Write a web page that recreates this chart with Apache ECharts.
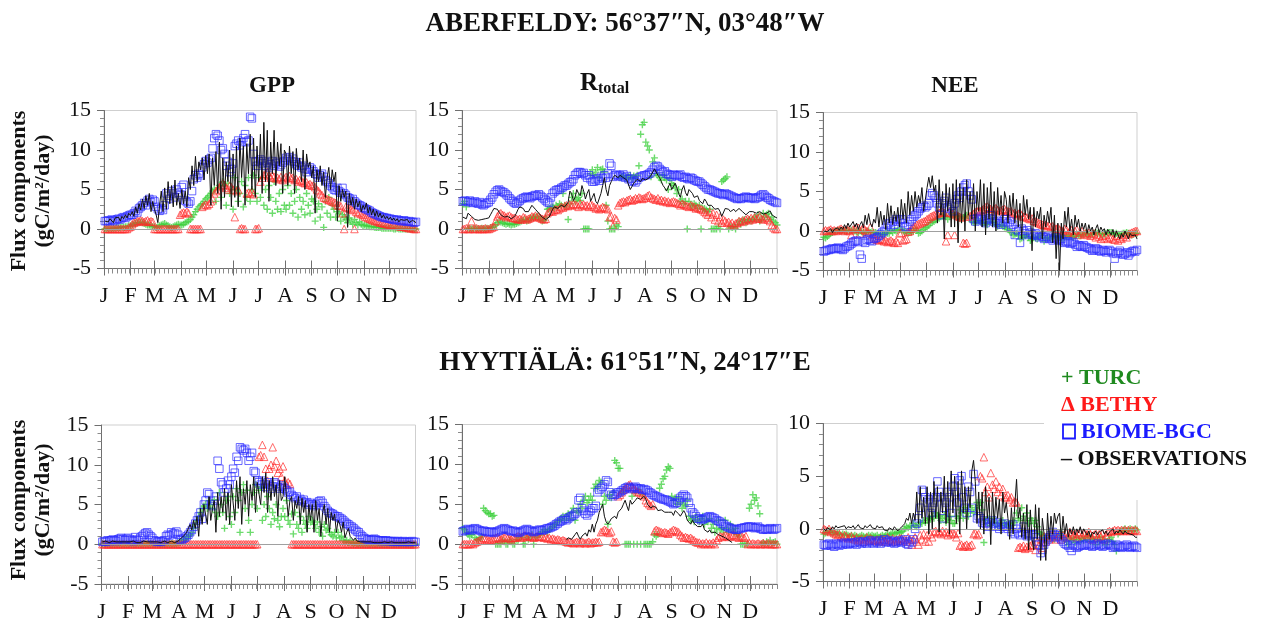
<!DOCTYPE html>
<html>
<head>
<meta charset="utf-8">
<script src="https://cdn.jsdelivr.net/npm/echarts@6/dist/echarts.min.js"></script>
<style>
  html, body { margin: 0; padding: 0; background: #ffffff; }
  #chart { width: 1268px; height: 630px; }
</style>
</head>
<body>
<div id="chart"></div>
<script>
// Month axis: first day of each month and its label
const MONTH_START = [0, 31, 59, 90, 120, 151, 181, 212, 243, 273, 304, 334];
const MONTH_LABELS = ['J', 'F', 'M', 'A', 'M', 'J', 'J', 'A', 'S', 'O', 'N', 'D'];
// one value every DAY_STEP days, Jan 1 .. Dec 31 (183 values per series, one row per month)
const DAY_STEP = 2;

const SERIES_NAMES = ['TURC', 'BETHY', 'BIOME-BGC', 'OBSERVATIONS'];
const SITE_TITLES = ['ABERFELDY: 56\u00b037\u2033N, 03\u00b048\u2033W', 'HYYTI\u00c4L\u00c4: 61\u00b051\u2033N, 24\u00b017\u2033E'];
const Y_NAME = ['Flux components', '(gC/m\u00b2/day)'];

// ================= Aberfeldy: GPP =================
const ABER_GPP_TURC = [
  0.0,0.0,0.0,0.1,0.0,0.1,0.1,0.2,0.1,0.2,0.3,0.2,0.3,0.3,0.4,0.4,
  0.5,0.6,0.7,0.8,0.8,0.9,0.8,0.7,0.6,0.5,0.5,0.4,0.3,0.3,
  0.2,0.3,0.4,0.5,0.6,0.7,0.5,0.4,0.3,0.2,0.3,0.4,0.5,0.6,0.5,
  0.5,0.6,0.8,0.9,1.0,1.2,1.5,1.8,2.2,2.5,2.8,3.0,3.2,3.5,3.8,
  4.0,4.2,4.5,4.8,5.0,3.5,5.2,5.5,4.0,6.0,5.5,3.0,5.8,4.5,5.0,2.5,
  6.5,5.0,3.5,4.5,6.0,2.8,5.5,4.0,6.5,3.5,5.0,6.8,4.5,3.5,6.5,
  4.0,6.5,3.0,5.0,2.5,5.5,4.0,2.0,6.0,3.5,2.5,4.5,2.2,5.0,3.0,
  2.5,5.5,3.0,4.5,2.0,3.5,5.0,1.5,4.0,2.5,3.5,1.8,4.5,3.0,2.0,3.8,
  3.5,1.0,2.5,3.2,1.5,2.8,0.2,3.5,2.0,4.0,1.5,3.0,2.5,1.5,2.2,
  2.0,1.0,1.8,1.5,1.2,0.8,1.4,1.0,0.6,1.2,0.8,0.5,0.9,0.6,0.4,
  0.5,0.4,0.4,0.3,0.3,0.3,0.2,0.2,0.2,0.2,0.1,0.1,0.1,0.1,0.1,
  0.1,0.1,0.0,0.0,0.1,0.0,0.0,0.0,0.0,0.0,0.0,0.0,0.0,0.0,0.0,0.0
];
const ABER_GPP_BETHY = [
  0,0,0,0,0,0,0,0,0,0,0,0,0,0,0.2,0.3,
  0.6,0.8,0.9,1.0,1.0,1.1,1.0,0.9,1.0,1.1,0.9,1.0,0.9,0.0,
  0,0,0,0,0,0,0,0,0,0,0,0,0,0,1.8,
  2.0,2.1,2.0,2.2,2.0,0,0,0,0,0,0,0,2.8,3.0,3.1,
  3.0,3.2,3.5,3.8,4.5,4.8,5.0,5.3,5.5,5.8,5.6,5.2,5.0,5.5,5.3,5.0,
  1.5,4.8,5.0,0.0,0.1,0.0,0.0,4.5,4.6,4.5,4.7,4.4,0.0,0.0,0.1,
  6.0,6.5,6.8,7.0,7.2,6.8,6.5,6.8,6.6,6.4,6.5,6.3,6.6,6.2,6.4,
  6.6,6.5,6.7,6.4,6.5,6.2,6.3,6.0,6.2,6.1,5.9,5.8,5.9,5.6,5.7,5.5,
  5.5,5.3,5.0,4.8,4.5,4.3,4.0,3.9,3.8,3.7,3.6,3.5,3.4,3.3,3.0,
  3.0,2.9,2.0,0.0,2.8,2.7,2.6,2.5,2.4,0.0,2.2,2.0,2.1,1.9,1.8,
  1.6,1.5,1.4,1.3,1.2,1.1,1.0,1.0,0.9,0.8,0.8,0.7,0.7,0.6,0.6,
  0.5,0.5,0.5,0.4,0.4,0.4,0.3,0.3,0.3,0.2,0.2,0.1,0.1,0.1,0.0,0.0
];
const ABER_GPP_BIOME = [
  1.0,1.0,1.1,1.0,1.2,1.1,1.0,1.2,1.3,1.2,1.4,1.5,1.4,1.6,1.7,1.8,
  1.8,2.0,2.3,2.1,2.6,2.8,3.0,3.3,3.0,3.6,3.8,3.4,3.7,3.5,
  2.8,2.5,2.3,2.6,2.4,3.0,4.5,4.2,3.8,4.8,4.5,4.0,5.0,4.6,4.3,
  5.3,5.6,3.6,3.4,3.2,3.5,4.8,6.3,6.8,6.5,7.0,6.8,7.8,8.2,8.6,
  8.4,8.8,9.0,10.2,11.5,12.0,11.8,11.2,10.0,10.2,9.5,8.0,8.5,7.2,7.6,8.3,
  10.5,10.8,11.2,10.6,11.0,11.5,12.0,11.0,11.2,14.2,14.0,9.5,8.5,8.0,8.6,
  8.8,8.3,8.6,8.0,8.4,7.8,8.2,8.6,8.0,8.3,8.5,7.9,8.1,8.4,8.6,
  9.0,8.8,9.1,8.6,8.9,8.5,8.2,8.0,8.4,7.8,8.0,7.6,7.2,7.5,7.8,7.6,
  7.3,7.0,6.9,6.5,6.8,7.0,6.6,6.2,6.0,5.8,5.5,5.3,5.0,4.9,5.2,
  4.8,4.6,5.2,4.5,4.3,4.0,3.9,3.6,3.8,3.5,3.3,3.1,3.0,2.9,2.7,
  2.6,2.5,2.4,2.3,2.1,2.0,1.9,1.8,1.7,1.6,1.5,1.5,1.4,1.4,1.3,
  1.3,1.2,1.2,1.1,1.2,1.1,1.0,1.0,1.1,1.0,0.9,1.0,0.9,0.9,0.8,0.9
];
const ABER_GPP_OBS = [
  1.0,1.2,0.9,1.3,1.1,0.8,1.4,1.2,1.5,1.0,1.6,1.3,1.8,1.4,2.0,1.7,
  2.2,1.6,2.8,2.0,3.2,2.4,3.8,2.6,4.2,3.0,4.5,2.2,3.5,2.5,
  1.8,0.8,3.0,4.8,2.2,5.2,2.5,6.0,3.2,5.5,2.8,6.2,3.0,4.5,2.6,
  5.0,3.2,4.8,2.8,6.5,5.0,8.0,5.5,9.2,6.0,8.5,7.5,9.0,6.2,9.3,
  7.0,9.5,3.0,9.0,5.5,9.8,4.5,11.0,2.5,9.0,4.0,8.5,6.0,10.0,2.8,9.5,
  4.0,10.5,2.8,11.5,6.5,10.5,3.0,10.8,7.0,12.0,5.0,11.5,4.0,10.5,6.0,
  12.0,4.5,13.5,6.0,12.5,3.5,11.0,7.0,12.5,5.5,11.0,8.0,10.8,4.5,10.0,
  9.5,5.5,10.5,7.0,9.8,4.5,10.2,7.5,9.0,6.0,10.0,5.0,9.5,7.8,8.5,6.5,
  8.0,2.0,7.5,6.0,8.0,5.5,7.2,4.0,6.5,7.8,5.0,7.5,6.0,7.2,1.0,
  5.5,3.5,5.0,4.0,4.8,0.2,4.5,3.0,4.0,2.5,3.8,2.8,3.5,2.2,3.0,
  2.5,3.3,2.0,2.8,1.8,2.5,1.6,2.3,1.5,2.0,1.4,1.8,1.3,1.6,1.2,
  1.5,1.1,1.4,1.0,1.3,0.9,1.2,1.0,1.1,0.9,1.2,0.8,1.0,1.1,0.9,0.8
];

// ================= Aberfeldy: total respiration =================
const ABER_R_TURC = [
  3.2,3.5,2.8,0.1,0.0,0.0,0.0,0.1,0.0,0.0,0.0,0.1,0.0,0.0,0.1,0.0,
  0.2,0.2,0.3,0.5,0.8,1.0,0.9,0.8,0.7,0.6,0.7,0.6,0.5,0.6,
  0.6,0.7,0.8,0.9,1.0,1.1,1.2,1.0,1.1,1.3,1.4,1.5,1.5,1.6,1.4,
  1.2,1.0,1.1,1.5,2.5,2.6,2.7,2.8,2.6,3.0,2.8,3.2,3.0,4.5,3.0,
  2.8,1.2,3.2,4.0,4.5,3.5,3.8,4.0,3.6,4.5,0.0,0.0,0.0,0.0,7.0,7.5,
  6.8,7.2,7.8,6.5,7.5,7.6,7.2,3.0,1.0,0.0,0.0,0.0,0.0,0.5,0.3,
  6.5,6.6,6.8,6.4,6.5,6.6,6.8,6.4,6.7,6.5,6.8,8.0,12.0,13.2,13.5,
  11.0,10.5,10.0,6.6,8.5,9.0,7.0,6.8,6.5,6.2,6.8,6.5,6.2,5.0,6.4,5.8,
  5.5,5.2,4.5,5.0,3.5,3.8,3.2,3.5,0.0,3.5,3.0,2.8,3.2,3.0,2.6,
  3.0,0.0,2.5,2.6,2.4,2.2,2.5,0.0,0.0,0.0,0.0,0.3,0.0,6.0,6.2,
  6.4,6.6,0.0,0.3,0.2,0.3,0.0,0.5,1.0,0.6,1.0,1.2,0.8,1.0,1.2,
  1.0,1.2,1.5,1.2,1.8,1.0,1.2,2.0,1.5,1.8,2.0,1.2,1.5,1.0,0.8,0.5
];
const ABER_R_BETHY = [
  0.0,0.0,0.1,0.0,0.0,1.0,0.0,0.0,0.1,0.0,0.0,0.0,0.0,0.1,0.0,0.0,
  0.1,0.2,0.3,1.0,1.6,1.9,2.0,1.8,1.7,1.5,1.6,1.7,1.5,1.4,
  1.4,1.3,1.2,1.3,1.2,1.5,1.4,1.2,1.3,1.4,1.6,1.5,1.7,1.5,1.6,
  1.4,1.3,1.2,1.3,2.0,2.2,2.3,2.2,2.4,2.5,2.4,2.6,2.8,2.7,2.9,
  3.0,2.9,3.1,3.0,3.2,3.1,3.0,2.8,3.2,3.0,3.1,2.9,3.0,2.8,3.1,3.0,
  2.8,2.6,2.7,2.5,2.6,2.8,2.7,2.6,2.5,1.5,1.6,0.4,1.4,1.2,3.0,
  3.3,3.4,3.5,3.4,3.6,3.7,3.8,3.6,3.7,3.9,3.8,4.0,3.9,3.8,3.9,
  4.0,4.2,4.3,4.0,3.9,3.8,3.7,3.9,3.6,3.7,3.5,3.6,3.4,3.5,3.3,3.4,
  3.5,3.4,3.3,3.2,3.0,3.2,3.1,3.0,2.9,2.8,3.0,2.9,2.8,2.6,2.7,
  2.6,2.5,2.4,2.2,2.0,1.8,2.2,1.5,2.0,1.2,1.8,1.0,1.5,0.8,1.2,
  1.0,0.8,0.9,0.6,0.8,0.5,0.7,0.8,1.0,0.9,1.1,1.0,1.2,1.3,1.1,
  1.4,1.2,1.5,1.3,1.4,1.6,1.3,1.2,1.5,1.4,1.2,1.0,0.5,0.2,0.0,0.0
];
const ABER_R_BIOME = [
  3.5,3.6,3.5,3.4,3.6,3.4,3.3,3.5,3.3,3.2,3.4,3.1,3.0,3.2,3.3,3.4,
  3.7,4.0,4.4,4.7,4.9,5.0,4.8,4.7,4.6,4.4,4.2,3.9,3.7,3.5,
  3.3,3.2,3.4,3.6,3.8,3.9,4.0,4.1,4.0,3.9,4.1,4.2,4.3,4.2,4.4,
  4.2,4.0,3.8,3.6,3.4,3.3,4.0,4.5,4.7,4.9,5.0,5.0,5.2,5.3,5.5,
  5.5,5.7,5.9,6.0,6.3,6.8,7.0,7.2,7.2,7.0,7.1,6.8,6.5,6.8,6.3,6.0,
  6.0,6.2,6.4,6.1,6.6,6.4,6.8,6.5,7.0,8.3,8.0,6.6,6.8,6.9,6.7,
  6.8,6.6,6.9,6.5,6.7,6.3,6.4,6.0,6.1,5.9,6.2,6.5,6.6,6.7,6.8,
  6.8,6.9,7.0,7.2,7.5,7.8,8.0,7.9,7.6,7.4,7.2,7.3,7.0,6.9,6.8,6.6,
  6.9,6.8,6.7,6.8,6.9,6.6,6.5,6.6,6.4,6.3,6.5,6.4,6.2,6.1,6.0,
  6.0,5.8,5.6,5.4,5.2,5.0,5.0,4.9,4.8,4.7,4.6,4.5,4.5,4.4,4.3,
  4.5,4.4,4.3,4.2,4.1,4.0,3.9,3.8,3.9,3.8,3.9,4.0,4.1,4.0,3.9,
  3.9,4.0,3.8,3.9,4.0,4.1,4.3,4.4,4.2,4.0,3.9,3.7,3.6,3.5,3.4,3.3
];
const ABER_R_OBS = [
  1.5,1.4,1.3,2.0,1.8,1.6,1.4,1.2,1.3,1.1,1.0,1.2,1.1,1.3,1.5,1.4,
  1.8,2.2,2.6,2.4,2.5,2.1,1.8,1.6,1.5,1.4,1.6,1.5,1.3,1.4,
  1.6,2.0,2.5,2.8,3.0,2.6,2.2,2.0,2.2,2.6,3.0,2.8,2.5,2.3,2.0,
  1.8,1.5,1.3,1.2,1.2,1.5,2.0,2.5,2.8,3.0,2.6,2.8,3.0,3.2,2.8,
  3.0,3.4,4.8,4.5,3.6,4.0,5.0,4.5,4.2,5.5,4.8,3.8,4.5,5.0,3.5,4.0,
  4.5,3.5,3.2,3.0,4.5,5.5,6.5,5.0,4.2,5.5,6.0,6.5,6.8,6.6,6.5,
  6.8,6.6,6.5,6.6,6.2,6.0,5.0,5.4,5.8,6.0,6.3,6.2,6.0,6.4,6.3,
  6.2,6.0,6.5,6.8,7.0,7.6,7.2,6.8,6.5,6.0,5.5,5.2,4.8,5.0,5.8,5.0,
  4.8,5.8,5.2,4.5,4.0,5.0,5.5,4.6,4.2,5.0,4.8,4.5,4.0,3.8,4.2,
  3.6,3.4,3.2,3.8,3.5,3.0,3.2,3.0,2.8,2.5,2.4,2.6,2.2,1.6,1.8,
  2.6,2.8,2.5,2.2,2.0,2.5,2.2,2.0,2.6,2.4,2.2,2.0,1.8,2.0,2.2,
  2.0,2.2,2.4,2.0,1.8,2.2,2.0,1.9,1.8,2.0,2.1,2.3,1.8,1.6,1.5,1.4
];

// ================= Aberfeldy: NEE =================
const ABER_NEE_TURC = [
  -0.8,-0.9,-0.7,-0.5,-0.3,-0.2,-0.1,0.0,0.0,0.1,0.0,0.1,0.0,0.0,0.1,0.0,
  0.1,0.0,0.0,-0.1,-0.2,0.0,-0.1,-0.3,-0.2,-0.1,0.0,-0.2,-0.1,-0.2,
  -0.2,-0.3,-0.4,-0.3,-0.5,-0.4,-0.2,-0.3,-0.3,0.0,-0.2,0.1,0.0,0.1,0.2,
  0.2,0.0,-0.1,-0.2,-0.3,-0.2,-0.1,0.0,0.3,0.1,-0.3,-0.2,0.0,0.2,0.4,
  0.5,0.7,1.0,1.1,1.2,1.4,1.5,1.6,1.8,1.9,2.0,1.8,1.5,1.8,2.2,2.0,
  2.0,1.9,1.8,1.6,1.5,1.7,1.8,2.0,1.9,1.6,1.2,1.1,1.0,1.2,1.3,
  1.2,1.1,1.0,0.9,0.8,1.2,1.5,1.1,1.0,0.8,0.6,0.7,0.8,0.6,0.5,
  0.3,0.2,0.0,-0.2,-0.5,-0.4,-0.3,-0.6,-1.0,-0.9,-0.8,-0.6,-0.5,-0.8,-1.2,-1.0,
  -0.8,-0.9,-1.0,-0.8,-0.5,-0.8,-1.3,-1.0,-0.8,-0.9,-1.0,-0.7,-0.6,-0.8,-0.7,
  -0.8,-0.9,-1.0,-0.8,-0.7,-0.6,-0.5,-0.7,-0.8,-0.6,-0.4,-0.5,-0.6,-0.5,-0.4,
  -0.3,-0.4,-0.5,-0.4,-0.4,-0.3,-0.2,-0.3,-0.3,-0.4,-0.5,-0.4,-0.3,-0.2,-0.2,
  -0.2,-0.3,-0.4,-0.3,-0.4,-0.5,-0.4,-0.3,-0.3,-0.2,-0.3,-0.4,-0.5,-0.4,-0.3,-0.3
];
const ABER_NEE_BETHY = [
  0.0,0.1,0.0,0.1,0.2,0.0,0.1,0.0,0.1,0.2,0.3,0.1,0.0,0.2,0.1,0.0,
  -0.5,0.2,0.3,0.5,0.4,-0.3,0.2,0.4,0.1,0.0,-0.2,0.5,-0.5,-0.8,
  -1.0,-1.1,-1.2,-1.0,-1.1,-1.3,-1.2,-1.4,-1.3,-1.2,-1.4,-1.5,-1.3,-1.5,-0.3,
  -0.2,-1.2,-1.1,-1.0,-0.1,0.0,0.3,0.5,0.6,0.8,0.9,1.0,1.1,1.2,1.3,
  1.5,1.6,1.8,1.9,2.0,2.1,2.2,2.3,2.5,2.4,2.3,-1.3,-0.5,2.4,2.3,2.2,
  -0.5,2.0,1.9,1.8,1.7,-1.5,-1.6,-1.5,1.8,1.9,2.0,2.2,2.4,2.5,2.6,
  2.5,2.7,2.8,3.0,3.1,2.9,2.8,2.6,2.8,2.9,2.7,2.5,2.6,2.7,2.8,
  2.6,2.5,2.4,2.5,2.2,2.3,2.0,2.2,2.3,2.0,1.8,1.9,1.7,1.6,1.5,1.6,
  1.3,1.2,1.1,1.0,0.9,0.8,0.7,0.8,0.6,0.7,0.5,0.6,0.4,0.3,0.4,
  0.2,0.1,0.0,0.3,0.2,-0.2,0.0,0.1,-0.3,0.0,0.2,-0.5,-0.2,0.0,-0.4,
  -0.3,-0.5,-0.2,-0.6,-0.4,-0.3,-0.8,-0.5,-0.7,-1.0,-0.6,-0.9,-0.5,-1.0,-0.8,
  -0.8,-1.0,-1.1,-0.6,-1.2,-0.9,-1.0,-0.7,-0.5,-0.8,-0.4,-0.3,-0.2,-0.1,0.0,0.0
];
const ABER_NEE_BIOME = [
  -2.6,-2.5,-2.4,-2.4,-2.3,-2.2,-2.3,-2.2,-2.1,-2.2,-2.3,-2.4,-2.2,-2.0,-1.9,-1.8,
  -1.6,-1.4,-1.3,-1.2,-1.4,-3.0,-3.5,-1.3,-1.5,-1.1,-1.0,-1.2,-1.3,-1.0,
  -0.9,-0.8,-0.6,-0.4,-0.2,0.0,0.4,0.8,1.0,0.6,1.2,0.8,1.5,1.2,1.4,
  1.5,1.0,0.6,0.5,0.8,1.2,1.5,1.8,2.0,2.2,2.5,2.8,3.0,3.2,3.0,
  3.2,3.5,4.5,4.8,4.5,4.2,3.5,3.0,2.0,3.5,3.8,4.2,3.0,2.8,3.2,2.5,
  3.5,4.0,4.5,4.2,5.0,5.5,5.8,6.0,5.0,4.5,4.0,1.5,1.2,1.6,1.4,
  1.8,1.5,1.2,1.0,1.4,1.6,2.0,1.5,1.2,1.0,1.3,1.0,0.8,1.2,1.5,
  1.5,1.0,1.2,0.5,0.8,-0.5,0.2,0.0,-1.5,0.3,0.0,-0.3,0.1,-0.5,-0.2,-0.4,
  -0.5,-0.3,-0.6,-0.8,-0.5,-0.7,-1.0,-0.8,-0.7,-1.0,-0.9,-1.2,-1.0,-0.8,-1.1,
  -1.2,-1.0,-1.3,-1.5,-1.4,-1.3,-1.6,-1.5,-1.4,-1.7,-2.0,-1.8,-1.9,-2.0,-1.8,
  -2.0,-2.1,-2.2,-2.3,-2.5,-2.4,-2.2,-2.3,-2.5,-2.6,-2.4,-2.5,-2.7,-2.5,-2.4,
  -2.6,-2.8,-3.5,-2.9,-2.7,-2.5,-2.8,-3.0,-2.9,-2.7,-3.1,-2.8,-2.6,-2.5,-2.6,-2.4
];
const ABER_NEE_OBS = [
  0.0,0.2,-0.1,0.1,0.3,-0.2,0.2,0.0,0.4,0.1,0.5,0.2,0.8,0.3,1.0,0.5,
  0.3,1.2,0.5,1.0,0.2,0.8,1.2,0.4,2.0,0.8,2.2,1.0,0.5,1.5,
  1.0,3.0,0.5,2.5,0.8,2.0,0.2,3.5,1.0,3.2,0.8,2.5,1.2,3.0,0.5,
  4.0,1.5,3.5,1.0,5.0,2.0,4.5,2.5,5.0,3.0,4.5,3.5,5.5,2.5,4.0,
  5.5,6.8,5.5,7.0,5.0,5.8,1.0,6.5,2.0,5.0,-1.0,6.0,2.5,5.5,0.5,6.0,
  0.5,6.5,-1.5,6.0,1.0,5.5,0.0,6.5,2.0,5.0,1.5,6.0,0.0,5.0,2.5,
  6.5,0.5,6.0,-0.5,5.5,1.5,6.2,0.5,5.0,0.0,5.5,2.0,4.5,1.0,5.0,
  4.0,1.0,4.5,2.0,4.8,1.0,4.0,0.5,3.5,-1.0,4.5,2.0,4.0,1.5,3.0,-2.5,
  3.0,0.5,2.5,1.5,3.0,-1.0,2.0,0.5,2.5,1.0,3.0,-1.5,2.0,-3.5,1.0,
  -5.0,1.0,-1.0,2.5,0.5,3.0,0.0,1.5,-0.5,2.0,0.5,1.5,0.0,1.0,0.2,
  1.0,-0.3,0.8,0.0,0.5,-0.5,0.3,0.8,-0.2,0.5,0.0,0.3,-0.5,0.2,0.0,
  -0.5,0.2,-0.8,0.0,-0.5,-1.0,-0.3,-0.8,0.0,-0.5,-1.0,-0.3,-0.6,-0.8,-0.5,-1.0
];

// ================= Hyytiala: GPP =================
const HYYT_GPP_TURC = [
  0.1,0.0,0.1,0.0,0.1,0.0,0.1,0.0,0.1,0.0,0.1,0.0,0.1,0.0,0.1,0.0,
  0.1,0.0,0.1,0.0,0.1,0.0,0.1,0.0,0.1,0.0,0.1,0.0,0.1,0.0,
  0.0,0.1,0.0,0.1,0.0,0.1,0.0,0.1,0.0,0.1,0.0,0.1,0.0,0.1,0.2,
  0.2,0.3,0.5,0.6,0.8,1.0,1.2,1.5,2.0,2.5,3.0,3.5,4.0,4.5,4.8,
  5.0,4.5,5.5,5.0,4.5,5.6,4.0,3.5,6.5,5.0,4.0,2.0,5.5,6.0,3.5,2.5,
  6.0,4.0,7.0,5.5,1.5,6.5,7.5,4.5,6.8,3.0,1.5,5.0,6.5,7.5,4.5,
  6.8,7.2,3.0,5.0,3.5,6.0,4.5,2.5,4.0,3.2,5.0,3.0,2.2,3.5,4.5,
  3.5,5.5,3.0,2.5,3.8,1.3,4.0,2.5,2.0,3.5,1.5,3.0,2.5,2.0,3.5,2.8,
  3.0,2.5,2.0,2.8,1.5,2.2,1.0,2.5,1.8,2.0,1.5,1.2,1.0,1.5,0.8,
  1.5,0.8,1.0,0.5,0.3,0.5,0.2,0.4,0.2,0.1,0.2,0.1,0.1,0.0,0.1,
  0.1,0.0,0.1,0.0,0.1,0.0,0.0,0.0,0.1,0.0,0.0,0.0,0.0,0.0,0.0,
  0.0,0.0,0.0,0.0,0.0,0.0,0.0,0.0,0.0,0.0,0.0,0.0,0.0,0.0,0.0,0.0
];
const HYYT_GPP_BETHY = [
  0,0,0,0,0,0,0,0,0,0,0,0,0,0,0,0,
  0,0,0,0,0,0,0,0,0,0,0,0,0,0,
  0,0,0,0,0,0,0,0,0,0,0,0,0,0,0,
  0,0,0,0,0,0,0,0,0,0,0,0,0,0,0,
  0,0,0,0,0,0,0,0,0,0,0,0,0,0,0,0,
  0,0,0,0,0,0,0,0,0,0,0,0,0,0,0,
  11.0,11.2,12.5,11.0,9.5,8.0,9.5,10.0,12.2,9.8,10.5,9.0,9.5,8.5,9.8,
  8.0,7.5,7.8,7.6,0,0,0,0,0,0,0,0,0,0,0,0,
  0,0,0,0,0,0,0,0,0,0,0,0,0,0,0,
  0,0,0,0,0,0,0,0,0,0,0,0,0,0,0,
  0,0,0,0,0,0,0,0,0,0,0,0,0,0,0,
  0,0,0,0,0,0,0,0,0,0,0,0,0,0,0,0
];
const HYYT_GPP_BIOME = [
  0.3,0.4,0.3,0.5,0.4,0.5,0.6,0.5,0.4,0.6,0.7,0.8,0.6,0.5,0.7,0.8,
  0.6,0.5,0.4,0.9,0.6,0.5,0.8,1.0,1.2,1.4,1.5,1.2,1.0,0.8,
  0.5,0.4,0.3,0.4,0.3,0.4,0.5,1.0,1.2,1.1,1.5,1.3,1.4,1.6,1.2,
  0.6,0.5,0.7,0.8,1.0,1.2,1.5,1.8,2.2,2.6,3.0,3.5,4.0,3.2,5.0,
  5.5,6.5,6.3,5.0,4.8,5.5,6.0,10.5,9.5,7.8,7.5,6.5,7.0,8.0,7.5,8.5,
  9.5,9.0,11.0,10.5,12.2,12.0,11.8,12.0,11.5,10.5,11.0,11.5,9.2,9.0,8.0,
  7.8,7.5,8.0,7.6,7.2,7.8,7.5,7.0,7.3,7.8,7.6,7.2,7.0,7.4,7.2,
  7.0,6.8,6.5,6.6,6.2,6.0,5.8,6.0,5.5,5.7,5.4,5.6,5.2,5.3,5.0,5.2,
  5.0,4.8,5.0,5.2,5.4,5.5,5.2,4.8,4.5,4.2,4.0,3.9,3.8,3.6,3.5,
  3.5,3.3,3.2,3.0,2.8,2.6,2.5,2.3,2.2,2.0,1.8,1.6,1.5,1.2,1.0,
  0.8,0.7,0.6,0.6,0.5,0.6,0.7,0.6,0.5,0.5,0.4,0.5,0.4,0.5,0.4,
  0.4,0.4,0.3,0.4,0.3,0.4,0.3,0.3,0.4,0.3,0.3,0.3,0.3,0.4,0.3,0.3
];
const HYYT_GPP_OBS = [
  0.3,0.2,0.4,0.3,0.2,0.3,0.4,0.2,0.3,0.2,0.3,0.4,0.3,0.2,0.3,0.2,
  0.3,0.2,0.4,0.3,0.2,0.3,0.2,0.3,0.4,0.2,0.3,0.2,0.3,0.2,
  0.3,0.2,0.3,0.4,0.2,0.3,0.4,0.3,0.2,0.3,0.4,0.3,0.2,0.3,0.4,
  0.5,0.8,1.0,1.2,1.5,2.0,2.5,1.8,3.0,2.0,3.5,1.0,4.5,2.5,5.0,
  5.0,2.5,6.0,3.0,4.5,5.5,1.5,6.5,3.5,6.0,4.0,7.0,3.0,6.5,2.5,7.5,
  7.5,3.0,8.0,4.5,8.5,2.5,7.0,5.0,8.0,3.5,7.5,5.5,8.5,4.0,7.8,
  8.0,5.0,8.5,6.5,9.0,4.0,8.0,5.5,8.5,6.0,7.5,3.5,8.0,5.5,6.0,
  8.5,6.0,3.5,5.5,6.0,3.0,5.5,4.5,6.0,2.5,5.8,4.0,5.5,1.5,5.0,3.0,
  5.0,1.5,5.5,3.0,4.5,1.0,4.0,5.0,2.5,4.5,1.5,4.0,3.0,3.8,1.5,
  3.0,2.5,1.5,2.8,0.8,1.5,2.0,1.0,1.2,0.5,0.8,0.4,0.5,0.3,0.3,
  0.3,0.2,0.3,0.2,0.3,0.2,0.2,0.3,0.2,0.3,0.2,0.2,0.3,0.2,0.2,
  0.2,0.3,0.2,0.2,0.3,0.2,0.2,0.2,0.3,0.2,0.2,0.3,0.2,0.2,0.2,0.2
];

// ================= Hyytiala: total respiration =================
const HYYT_R_TURC = [
  2.0,1.8,1.5,1.2,1.0,1.2,1.5,0.8,0.6,0.5,0.8,1.0,4.5,4.2,4.0,3.8,
  3.8,3.5,3.6,0.0,0.0,0.0,0.0,0.5,0.3,0.0,0.0,0.5,0.3,0.0,
  0.0,0.6,0.5,0.8,1.0,0.0,0.0,0.8,0.6,1.0,1.2,0.0,0.8,1.0,1.2,
  1.2,1.5,1.8,1.6,1.5,1.8,2.0,2.2,2.5,2.4,2.8,3.0,3.2,3.5,3.0,
  3.5,3.8,3.2,4.0,4.5,3.0,4.2,4.0,5.0,4.5,5.5,6.0,5.2,5.5,6.0,5.5,
  7.0,7.5,7.2,8.0,7.8,5.0,6.0,5.5,2.5,6.2,5.8,6.5,10.5,10.2,9.5,
  9.5,6.5,6.8,0.0,0.0,0.0,0.0,6.0,0.0,6.5,0.0,6.8,0.0,6.2,0.0,
  0.0,0.0,0.0,0.0,0.3,1.2,1.0,1.2,7.0,7.5,8.2,8.5,9.3,9.7,9.5,6.0,
  5.5,5.8,5.0,5.8,5.2,4.5,5.0,4.8,5.5,3.5,3.0,3.2,2.8,3.5,3.0,
  2.8,3.2,3.5,2.5,3.0,2.8,3.2,2.0,2.5,1.5,2.0,3.0,1.8,2.0,1.5,
  3.0,2.0,1.5,2.5,1.8,1.5,2.0,1.2,1.0,0.0,0.0,0.0,0.0,0.0,4.5,
  5.0,6.2,5.5,5.8,4.8,3.8,0.0,0.2,0.0,0.3,0.0,0.5,0.0,0.2,0.3,0.0
];
const HYYT_R_BETHY = [
  0.0,0.0,0.0,0.0,0.0,0.1,0.0,0.2,0.3,0.4,0.5,0.6,0.8,0.7,0.6,0.5,
  0.5,0.6,0.7,0.8,0.9,0.7,0.6,0.8,0.9,1.0,0.8,0.7,0.6,0.8,
  0.8,0.9,1.0,0.9,0.8,1.0,1.1,0.9,1.0,0.9,1.0,0.8,0.9,1.0,0.9,
  0.9,1.0,0.8,0.9,0.7,0.8,0.6,0.7,0.6,0.5,0.6,0.5,0.4,0.5,0.4,
  0.3,0.2,0.3,0.2,0.1,0.2,0.3,0.2,0.1,0.3,0.2,0.1,0.2,0.3,0.1,0.2,
  0.2,0.3,0.2,0.3,1.5,1.6,1.8,1.7,1.5,1.4,1.6,0.3,0.2,0.3,6.0,
  6.2,6.5,6.8,7.0,7.2,7.4,7.5,7.2,7.0,6.8,6.6,6.5,6.4,6.2,6.0,
  5.5,5.2,5.0,4.8,5.0,1.6,1.8,1.7,1.6,1.5,1.4,1.5,1.4,1.3,1.5,1.6,
  1.8,1.7,1.6,1.5,1.2,1.0,0.8,0.9,0.8,0.7,0.8,0.6,0.5,0.3,0.2,
  0.2,0.0,0.1,0.0,0.2,0.0,0.1,0.0,0.2,0.0,0.5,0.8,1.0,0.9,1.0,
  1.1,1.0,0.9,1.0,1.1,1.2,1.0,0.9,0.8,1.0,0.9,0.8,1.0,0.0,0.1,
  0.0,0.1,0.0,0.0,0.1,0.0,0.0,0.1,0.0,0.0,0.1,0.0,0.0,0.0,0.0,0.0
];
const HYYT_R_BIOME = [
  1.6,1.7,1.8,1.9,1.8,1.7,1.9,2.0,1.9,1.8,1.7,1.6,1.7,1.6,1.5,1.5,
  1.6,1.5,1.4,1.5,1.6,1.7,1.8,1.9,2.0,1.9,1.8,1.7,1.6,1.7,
  1.6,1.5,1.4,1.5,1.6,1.7,1.8,1.9,1.8,1.7,1.6,1.5,1.6,1.7,1.8,
  1.8,1.7,1.8,1.9,2.0,2.0,2.1,2.2,2.3,2.5,2.6,2.8,2.9,3.0,3.2,
  3.0,3.2,3.4,3.5,3.6,3.8,4.0,5.5,5.8,4.5,4.2,3.8,3.6,4.0,4.2,4.5,
  4.5,4.8,6.5,6.8,7.0,7.2,7.5,8.0,7.8,6.5,6.2,6.0,6.2,6.3,6.5,
  6.5,6.7,6.8,7.0,7.1,7.2,7.0,6.9,7.1,7.2,7.0,6.9,7.0,6.8,6.9,
  6.8,6.7,6.5,6.4,6.2,6.1,6.0,5.9,5.8,5.7,5.6,5.6,5.5,5.4,5.3,5.2,
  5.0,5.1,5.2,5.5,5.8,6.0,6.2,6.0,5.8,5.2,4.5,4.0,3.8,3.5,3.2,
  3.2,3.0,3.1,3.2,3.3,3.4,3.5,3.4,3.3,3.2,3.0,2.9,2.8,2.6,2.5,
  2.3,2.2,2.1,2.0,1.9,1.9,1.8,1.8,1.9,2.0,2.0,2.1,2.1,2.2,2.2,
  2.2,2.1,2.0,2.1,2.2,2.0,1.9,1.8,1.9,1.8,1.9,2.0,1.9,1.8,1.9,2.0
];
const HYYT_R_OBS = [
  null,null,null,null,null,null,null,null,null,null,null,null,null,null,null,null,
  null,null,null,null,null,null,null,null,null,null,null,null,null,null,
  null,null,null,null,null,null,null,null,null,null,null,null,null,null,null,
  null,null,null,null,null,null,null,null,null,null,null,null,null,null,null,
  0.5,0.8,1.0,0.6,0.8,1.2,1.5,1.0,0.6,1.0,1.2,1.4,1.0,1.8,1.5,2.5,
  1.5,2.5,3.0,4.0,4.5,5.0,3.5,2.8,2.5,2.8,3.2,3.0,3.5,3.2,4.0,
  4.2,4.5,5.0,5.5,4.8,4.2,5.5,5.0,4.8,5.5,5.8,6.0,5.6,5.8,6.0,
  5.6,5.0,4.8,4.5,4.8,5.0,4.6,4.2,4.0,4.3,4.4,4.0,3.8,4.0,4.2,4.0,
  3.6,4.2,4.0,3.8,3.5,3.6,4.2,3.8,3.0,2.8,2.5,3.0,2.6,2.8,2.2,
  2.0,2.2,2.5,1.8,1.6,1.5,1.8,1.4,1.2,1.5,1.3,1.2,1.0,1.0,0.8,
  0.8,0.6,0.5,0.3,0.2,null,null,null,null,null,null,null,null,null,null,
  null,null,null,null,null,null,null,null,null,null,null,null,null,null,null,null
];

// ================= Hyytiala: NEE =================
const HYYT_NEE_TURC = [
  -0.5,-0.4,-0.3,-0.2,-0.3,-0.4,-0.3,-0.5,-0.4,-0.5,-0.6,-0.5,-0.6,-0.5,-0.6,-0.7,
  -0.6,-0.7,-0.6,-0.7,-0.8,-0.7,-0.6,-0.7,-0.8,-0.7,-0.6,-0.7,-0.6,-0.7,
  -0.7,-0.6,-0.8,-0.7,-0.6,-0.7,-0.6,-0.5,-0.6,-0.5,-0.4,-0.5,-0.4,-0.3,-0.4,
  -0.3,-0.2,0.0,0.2,0.1,0.3,0.2,0.5,0.3,0.2,0.4,0.6,0.5,0.8,0.6,
  0.8,1.0,0.9,1.2,1.0,1.5,1.3,1.2,0.8,1.0,1.3,0.6,0.9,1.2,0.8,0.5,
  0.5,1.2,1.0,1.8,1.5,1.0,2.0,1.5,1.2,2.2,1.8,1.5,2.0,2.5,2.2,
  2.5,1.8,-1.3,0.8,0.5,1.0,0.3,0.6,1.0,0.5,0.2,0.6,0.3,0.8,0.5,
  0.4,0.2,0.5,0.3,0.8,0.6,1.5,1.0,0.8,2.0,1.2,0.8,1.5,0.5,1.0,0.8,
  0.5,0.8,0.2,-0.3,-0.5,-0.6,-0.9,-1.0,-1.2,-0.8,-0.6,-0.9,-1.0,-0.5,-0.8,
  -0.5,-0.3,-0.8,-1.0,-1.2,-1.5,-0.9,-1.1,-1.0,-1.3,-0.8,-1.0,-1.2,-0.9,-1.1,
  -0.8,-1.0,-0.6,-1.2,-0.9,-1.0,-1.5,-1.0,-1.2,-0.8,-1.3,-1.0,-1.5,-1.2,-1.0,
  -0.8,-1.2,-1.5,-2.1,-0.5,-0.3,-0.2,-0.1,0.0,-0.2,-0.1,0.0,-0.2,-0.1,0.0,-0.1
];
const HYYT_NEE_BETHY = [
  0.0,-0.1,-0.2,0.0,-0.3,-0.2,-0.4,-0.5,-0.6,-0.5,-0.7,-0.8,-0.6,-0.7,-0.9,-0.8,
  -0.7,-0.9,-1.0,-0.8,-1.1,-1.0,-0.9,-1.2,-1.0,-0.8,-1.1,-0.9,-1.0,-1.1,
  -1.1,-1.0,-1.2,-0.9,-1.1,-1.0,-1.2,-0.8,-1.0,-1.1,-0.9,-1.2,-1.0,-1.1,-0.9,
  -0.9,-1.1,-1.0,-1.2,-0.8,-1.0,-1.5,-1.0,-0.8,-1.2,-1.5,-0.6,-1.0,-0.5,-1.2,
  -0.6,-1.2,-0.5,-0.8,-0.3,-0.2,-0.4,-0.3,-0.5,-0.2,-0.4,-0.3,-0.6,-0.3,-0.5,-0.4,
  -0.5,-0.8,-0.4,-1.6,-1.5,-1.7,-1.6,-1.5,-1.7,-1.6,-1.5,-0.5,-0.4,-0.6,-0.5,
  5.0,4.8,6.8,3.5,4.0,3.0,5.3,4.2,3.8,4.5,3.5,4.0,3.2,3.8,3.0,
  3.0,3.2,2.8,3.0,2.5,2.6,2.5,-1.8,-1.7,-1.8,-1.6,-1.9,-1.7,-1.8,-1.6,-1.5,
  -1.5,-2.0,-1.2,-1.6,-1.0,-1.8,-0.7,-1.2,-0.8,-1.0,-0.6,-0.8,-0.5,-1.0,-0.7,
  -0.5,-1.0,-0.6,-0.8,-0.4,-0.7,-0.3,-0.5,-0.6,-0.4,-0.8,-0.5,-0.3,-0.6,-0.4,
  -0.4,-0.6,-0.3,-0.5,-1.0,-0.6,-0.4,-0.8,-0.5,-0.7,-0.4,-1.0,-0.6,-0.3,-0.2,
  -0.3,-0.2,-0.1,-0.2,-0.1,-0.2,-0.1,-0.2,-0.1,-0.2,-0.1,-0.2,-0.1,-0.2,-0.1,-0.2
];
const HYYT_NEE_BIOME = [
  -1.5,-1.6,-1.5,-1.4,-1.6,-1.5,-1.7,-1.4,-1.5,-1.6,-1.4,-1.5,-1.3,-1.4,-1.5,-1.4,
  -1.3,-1.4,-1.3,-1.5,-1.2,-1.3,-1.4,-1.2,-1.3,-1.4,-1.2,-1.1,-1.3,-1.4,
  -1.2,-1.3,-1.1,-1.4,-1.2,-1.0,-1.3,-1.2,-1.1,-1.3,-1.2,-1.4,-1.3,-1.2,-1.1,
  -1.3,-1.2,-1.0,-1.4,-1.5,-1.2,-1.3,-1.0,0.0,0.5,1.0,2.0,3.7,3.5,3.0,
  2.5,2.8,1.5,2.0,2.5,3.0,4.5,3.5,3.0,1.0,2.0,2.5,3.5,3.0,1.5,4.0,
  4.8,3.5,2.5,4.6,5.0,3.0,2.0,1.5,4.0,3.5,2.0,5.2,4.5,1.0,1.2,
  1.0,0.6,0.8,0.5,0.2,0.6,0.3,0.8,0.5,0.2,0.6,0.0,0.4,0.2,0.5,
  0.2,0.0,0.3,-0.3,0.4,-0.5,0.0,-0.4,-0.6,-0.3,0.2,-0.5,-0.7,-0.4,-0.6,-0.5,
  -0.5,-0.8,-1.2,-1.5,-2.3,-2.0,-1.5,-1.2,-1.0,-0.8,-0.6,-0.3,-0.5,-0.8,-0.6,
  -0.8,-1.0,-1.2,-1.4,-1.5,-1.6,-1.8,-2.1,-1.5,-1.6,-1.8,-1.7,-1.6,-1.5,-1.6,
  -1.5,-1.4,-1.6,-1.5,-1.7,-1.6,-1.5,-1.4,-1.6,-1.5,-1.7,-1.6,-1.5,-1.4,-1.5,
  -1.6,-1.8,-1.7,-1.5,-1.6,-1.7,-1.8,-1.7,-1.6,-1.5,-1.7,-1.8,-1.7,-1.6,-1.7,-1.8
];
const HYYT_NEE_OBS = [
  0.0,-0.2,0.1,0.0,-0.1,0.2,0.0,0.3,0.1,0.0,0.2,0.1,0.3,0.0,0.2,0.1,
  0.1,0.3,0.0,0.2,0.4,0.1,0.2,0.0,0.3,0.1,0.2,0.4,0.1,0.0,
  0.0,0.3,0.1,0.0,0.2,-0.1,0.0,-0.2,0.1,0.0,-0.1,0.2,0.0,-0.2,0.0,
  0.0,0.3,0.5,1.0,0.8,1.5,0.5,1.5,0.8,3.5,0.5,4.0,1.0,3.0,0.5,
  4.0,-0.5,3.5,0.0,4.5,1.0,4.0,-0.3,3.5,1.5,5.0,0.5,4.5,-0.5,5.5,1.5,
  5.0,0.5,4.5,-0.5,5.5,1.5,4.0,0.0,4.0,2.0,5.5,6.5,4.5,0.5,3.5,
  0.0,3.5,-0.5,4.0,1.0,3.0,-1.5,3.5,0.5,3.0,1.0,2.8,-0.5,3.5,1.5,
  2.5,1.0,-1.0,2.0,-0.5,2.3,4.7,1.0,2.0,-0.8,1.5,-1.0,2.3,-2.0,1.8,-1.0,
  -2.0,2.3,-1.0,2.0,-3.0,1.0,-0.5,-3.0,1.5,-1.0,1.2,-0.5,1.5,0.5,1.2,
  1.5,-1.0,1.2,-0.5,0.5,-0.8,0.0,-0.5,0.2,-0.6,0.0,-0.4,0.2,-0.5,0.0,
  0.0,-0.6,-0.2,-0.8,-0.3,-0.5,-0.2,-0.6,-0.3,-0.4,-0.1,-0.5,-0.2,-0.6,-0.3,
  -0.3,0.0,-0.5,-0.2,-0.4,-0.1,-0.3,-0.5,-0.2,-0.4,-0.3,-0.5,-0.4,-0.6,-0.8,-0.8
];

// ================= layout =================
const FONT = '"Liberation Serif", "DejaVu Serif", serif';
const COLORS = { turc: '#3ccf3c', bethy: '#ff2b2b', biome: '#2b2bff', obs: '#111111' };
const PLUS = 'path://M4,0H6V4H10V6H6V10H4V6H0V4H4Z';

const PANELS = [
  { box: [104, 110.5, 312, 158], min: -5, max: 15, d: [ABER_GPP_TURC, ABER_GPP_BETHY, ABER_GPP_BIOME, ABER_GPP_OBS] },
  { box: [462, 110.5, 315, 158], min: -5, max: 15, d: [ABER_R_TURC, ABER_R_BETHY, ABER_R_BIOME, ABER_R_OBS] },
  { box: [823, 112.5, 314, 158], min: -5, max: 15, d: [ABER_NEE_TURC, ABER_NEE_BETHY, ABER_NEE_BIOME, ABER_NEE_OBS] },
  { box: [101.5, 425, 314, 159], min: -5, max: 15, d: [HYYT_GPP_TURC, HYYT_GPP_BETHY, HYYT_GPP_BIOME, HYYT_GPP_OBS] },
  { box: [462, 424.5, 315, 159.5], min: -5, max: 15, d: [HYYT_R_TURC, HYYT_R_BETHY, HYYT_R_BIOME, HYYT_R_OBS] },
  { box: [823, 423.5, 314, 158], min: -5, max: 10, d: [HYYT_NEE_TURC, HYYT_NEE_BETHY, HYYT_NEE_BIOME, HYYT_NEE_OBS] }
];

const MINOR_TICKS = [];
for (let d = 0; d <= 365; d += 5) MINOR_TICKS.push(d);

const toPts = arr => arr.map((v, i) => [i * DAY_STEP + 1, v]);

const grid = [], xAxis = [], yAxis = [], series = [];

PANELS.forEach((p, k) => {
  grid.push({
    left: p.box[0], top: p.box[1], width: p.box[2], height: p.box[3],
    show: true, borderColor: '#cfcfcf', borderWidth: 1, backgroundColor: 'transparent'
  });
  const base = { gridIndex: k, type: 'value', position: 'bottom', offset: 0, min: 0, max: 365, splitLine: { show: false } };
  // axis line + short ticks
  xAxis.push(Object.assign({}, base, {
    axisLine: { show: true, onZero: false, lineStyle: { color: '#6f6f6f', width: 1 } },
    axisTick: { show: true, customValues: MINOR_TICKS, length: 5, lineStyle: { color: '#8a8a8a' } },
    axisLabel: { show: false }
  }));
  // month ticks below the axis, with month letters
  xAxis.push(Object.assign({}, base, {
    axisLine: { show: false, onZero: false },
    axisTick: { show: true, customValues: MONTH_START, length: 7, lineStyle: { color: '#6f6f6f' } },
    axisLabel: {
      show: true, customValues: MONTH_START, margin: 17,
      formatter: v => MONTH_LABELS[MONTH_START.indexOf(v)],
      fontFamily: FONT, fontSize: 22, color: '#111'
    }
  }));
  // month ticks rising above the axis
  xAxis.push(Object.assign({}, base, {
    axisLine: { show: false, onZero: false },
    axisTick: { show: true, inside: true, customValues: MONTH_START, length: 8, lineStyle: { color: '#6f6f6f' } },
    axisLabel: { show: false }
  }));
  yAxis.push({
    gridIndex: k, type: 'value', position: 'left', min: p.min, max: p.max, interval: 5,
    axisLine: { show: true, onZero: false, lineStyle: { color: '#6f6f6f' } },
    axisTick: { show: true, length: 7, lineStyle: { color: '#6f6f6f' } },
    minorTick: { show: true, splitNumber: 5, length: 4, lineStyle: { color: '#8a8a8a' } },
    axisLabel: { fontFamily: FONT, fontSize: 22, color: '#111', margin: 13 },
    splitLine: { show: false }, minorSplitLine: { show: false }
  });
  const xi = k * 3;
  series.push({
    name: SERIES_NAMES[0], type: 'scatter', xAxisIndex: xi, yAxisIndex: k,
    data: toPts(p.d[0]), symbol: PLUS, symbolSize: 7, silent: true, z: 2,
    itemStyle: { color: COLORS.turc, opacity: 0.75 },
    markLine: {
      silent: true, symbol: ['none', 'none'], label: { show: false },
      lineStyle: { color: '#a0a0a0', width: 1, type: 'solid' },
      data: [{ yAxis: 0 }], animation: false
    }
  });
  series.push({
    name: SERIES_NAMES[1], type: 'scatter', xAxisIndex: xi, yAxisIndex: k,
    data: toPts(p.d[1]), symbol: 'triangle', symbolSize: 7.5, silent: true, z: 3,
    itemStyle: { color: 'rgba(255,255,255,0)', borderColor: COLORS.bethy, borderWidth: 1, opacity: 0.7 }
  });
  series.push({
    name: SERIES_NAMES[2], type: 'scatter', xAxisIndex: xi, yAxisIndex: k,
    data: toPts(p.d[2]), symbol: 'rect', symbolSize: 7.5, silent: true, z: 4,
    itemStyle: { color: 'rgba(255,255,255,0)', borderColor: COLORS.biome, borderWidth: 1, opacity: 0.7 }
  });
  series.push({
    name: SERIES_NAMES[3], type: 'line', xAxisIndex: xi, yAxisIndex: k,
    data: toPts(p.d[3]), showSymbol: false, symbol: 'none', connectNulls: false, silent: true, z: 5,
    lineStyle: { color: COLORS.obs, width: 1 }
  });
});

function txt(x, y, text, font, fill, extra) {
  return Object.assign({
    type: 'text', x: x, y: y, silent: true, z: 120,
    style: { text: text, font: font, fill: fill, align: 'center', verticalAlign: 'middle',
             textAlign: 'center', textVerticalAlign: 'middle' }
  }, extra || {});
}

const graphic = [
  // site headings
  txt(625, 24, SITE_TITLES[0], 'bold 27px ' + FONT, '#111'),
  txt(625, 363, SITE_TITLES[1], 'bold 27px ' + FONT, '#111'),
  // panel headings
  txt(272, 86, 'GPP', 'bold 23px ' + FONT, '#111'),
  { type: 'text', x: 598, y: 96, silent: true, z: 120,
    style: { text: 'R', font: 'bold 25px ' + FONT, fill: '#111', align: 'right', verticalAlign: 'bottom',
             textAlign: 'right', textVerticalAlign: 'bottom' } },
  { type: 'text', x: 598, y: 97, silent: true, z: 120,
    style: { text: 'total', font: 'bold 16px ' + FONT, fill: '#111', align: 'left', verticalAlign: 'bottom',
             textAlign: 'left', textVerticalAlign: 'bottom' } },
  txt(955, 86, 'NEE', 'bold 23px ' + FONT, '#111'),
  // y-axis names
  txt(19, 191, Y_NAME[0], 'bold 22px ' + FONT, '#111', { rotation: Math.PI / 2 }),
  txt(43, 191, Y_NAME[1], 'bold 22px ' + FONT, '#111', { rotation: Math.PI / 2 }),
  txt(19, 500, Y_NAME[0], 'bold 22px ' + FONT, '#111', { rotation: Math.PI / 2 }),
  txt(43, 500, Y_NAME[1], 'bold 22px ' + FONT, '#111', { rotation: Math.PI / 2 }),
  // legend block over the corner of the last panel
  { type: 'rect', shape: { x: 1044, y: 360, width: 224, height: 140 }, style: { fill: '#ffffff' }, silent: true, z: 110 },
  // hollow square key for BIOME-BGC
  { type: 'rect', shape: { x: 1063, y: 424.5, width: 12, height: 14 }, style: { fill: 'none', stroke: '#1a1aff', lineWidth: 1.8 }, silent: true, z: 120 }
];
const LEGEND_ROWS = [
  ['+ ' + SERIES_NAMES[0], '#1f8a1f', 1061],
  ['\u0394 ' + SERIES_NAMES[1], '#ff1a1a', 1061],
  [SERIES_NAMES[2], '#1a1aff', 1081],
  ['\u2013 ' + SERIES_NAMES[3], '#111111', 1061]
];
LEGEND_ROWS.forEach((r, i) => {
  graphic.push({
    type: 'text', x: r[2], y: 378 + i * 27, silent: true, z: 120,
    style: { text: r[0], font: 'bold 22px ' + FONT, fill: r[1], align: 'left', verticalAlign: 'middle',
             textAlign: 'left', textVerticalAlign: 'middle' }
  });
});

const chart = echarts.init(document.getElementById('chart'), null, { renderer: 'canvas' });
chart.setOption({
  animation: false,
  backgroundColor: '#ffffff',
  grid: grid,
  xAxis: xAxis,
  yAxis: yAxis,
  series: series,
  graphic: graphic
});
</script>
</body>
</html>
